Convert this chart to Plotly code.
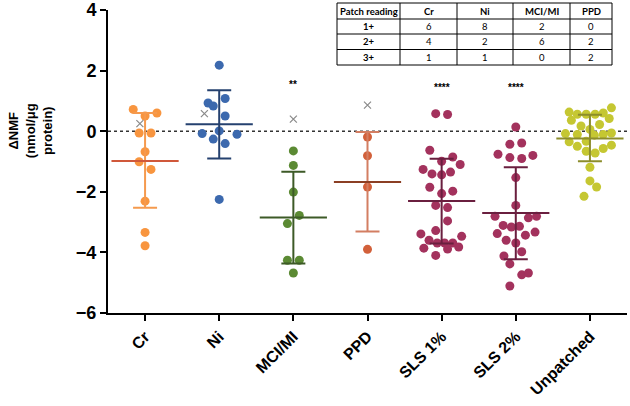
import plotly.graph_objects as go

# ---------------- data ----------------
categories = ["Cr", "Ni", "MCI/MI", "PPD", "SLS 1%", "SLS 2%", "Unpatched"]

cr_vals = [0.72, 0.60, 0.50, -0.06, -0.06, -0.68, -1.01, -1.26, -2.31, -3.34, -3.78]
cr_off = [-0.16, 0.16, 0.0, -0.08, 0.08, 0.0, -0.08, 0.08, 0.0, 0.0, 0.0]

ni_vals = [2.18, 0.93, 0.83, 1.08, 0.50, -0.08, 0.01, -0.10, -0.26, -0.41, -2.25]
ni_off = [0.0, -0.15, -0.08, 0.08, 0.08, -0.23, 0.0, 0.24, -0.08, 0.08, 0.0]

mci_vals = [-0.65, -1.13, -2.01, -2.78, -3.05, -4.26, -4.26, -4.68]
mci_off = [0.0, 0.0, 0.0, 0.08, -0.08, -0.08, 0.08, 0.0]

ppd_vals = [-0.19, -0.81, -1.84, -3.90]
ppd_off = [0.0, 0.0, 0.0, 0.0]

sls1_vals = [0.58, 0.55, -0.63, -0.99, -0.85, -1.10, -1.26, -1.41, -1.44, -1.35,
             -1.85, -1.98, -2.06, -2.45, -2.52, -2.96, -3.28, -3.39, -3.47, -3.60,
             -3.69, -3.69, -3.69, -3.86, -3.89, -3.82, -4.10]
sls1_off = [-0.08, 0.08, -0.16, 0.0, 0.15, 0.25, -0.25, -0.13, 0.0, 0.12,
            -0.16, 0.15, 0.0, -0.08, 0.08, 0.08, -0.08, -0.28, 0.27, -0.17,
            -0.06, 0.04, 0.15, -0.24, 0.08, 0.23, -0.08]

sls2_vals = [0.14, -0.43, -0.39, -0.76, -0.87, -0.90, -0.80, -1.53, -2.45, -2.81,
             -2.86, -2.81, -3.11, -3.16, -3.14, -3.38, -3.43, -3.33, -3.60, -3.69,
             -3.98, -4.12, -4.38, -4.74, -4.68, -5.11]
sls2_off = [0.0, -0.08, 0.08, -0.24, -0.08, 0.08, 0.23, 0.0, 0.0, -0.28,
            0.17, 0.28, -0.17, -0.06, 0.05, -0.25, 0.13, 0.26, -0.13, 0.0,
            0.08, -0.16, -0.08, 0.08, 0.17, -0.08]

unp_vals = [0.63, 0.56, 0.56, 0.56, 0.60, 0.77, 0.36, 0.42, 0.17, 0.22,
            -0.08, -0.11, 0.06, -0.13, -0.11, -0.06, -0.35, -0.33, -0.50, -0.57,
            -0.46, -0.66, -0.72, -1.19, -1.64, -1.84, -2.15]
unp_off = [-0.28, -0.17, -0.05, 0.07, 0.18, 0.29, -0.25, 0.26, -0.12, 0.13,
           -0.33, -0.17, 0.0, 0.06, 0.18, 0.29, -0.28, -0.05, -0.17, 0.18,
           0.29, -0.05, 0.07, 0.0, 0.0, 0.09, -0.08]

group_vals = [cr_vals, ni_vals, mci_vals, ppd_vals, sls1_vals, sls2_vals, unp_vals]
group_off = [cr_off, ni_off, mci_off, ppd_off, sls1_off, sls2_off, unp_off]

means = [-0.98, 0.23, -2.85, -1.68, -2.30, -2.70, -0.24]
upper = [0.60, 1.35, -1.34, -0.03, -0.91, -1.19, 0.54]
lower = [-2.53, -0.90, -4.37, -3.31, -3.71, -4.23, -0.99]

# grey "x" markers (patch groups)
xmark_cat = [0, 1, 2, 3]
xmark_off = [-0.07, -0.20, 0.0, 0.0]
xmark_vals = [0.25, 0.58, 0.40, 0.86]

# significance stars
star_cat = [2, 4, 5]
star_text = ["**", "****", "****"]
star_y = [1.55, 1.45, 1.45]

# table
table_header = ["Patch reading", "Cr", "Ni", "MCI/MI", "PPD"]
table_rows = [["1+", "6", "8", "2", "0"],
              ["2+", "4", "2", "6", "2"],
              ["3+", "1", "1", "0", "2"]]

# ---------------- styles ----------------
point_colors = ["#F8953F", "#3C69AE", "#5B8A33", "#D2603A", "#A3325D", "#A3325D", "#C5C732"]
bar_colors = ["#F59A4E", "#25416F", "#3D5A27", "#D37E62", "#6A1F3F", "#6A1F3F", "#8C8D2C"]
mean_colors = ["#D0583A", "#25416F", "#3D5A27", "#8B3F24", "#6A1F3F", "#6A1F3F", "#8C8D2C"]

L, R, T, B = 108, 3, 10, 93
W, H = 630, 406
pw, ph = W - L - R, H - T - B


def px2paper(x, y):
    return (x - L) / pw, (T + ph - y) / ph


fig = go.Figure()

# zero dotted line
fig.add_shape(type="line", xref="paper", yref="y", x0=0, x1=1, y0=0, y1=0,
              line=dict(color="#333333", width=1.5, dash="dot"), layer="below")

for i, (vals, offs) in enumerate(zip(group_vals, group_off)):
    fig.add_trace(go.Scatter(
        x=[i + o for o in offs], y=vals, mode="markers",
        marker=dict(size=9, color=point_colors[i], line=dict(width=0)),
        showlegend=False, hoverinfo="y"))

for i in range(len(categories)):
    fig.add_trace(go.Scatter(
        x=[i], y=[means[i]], mode="markers",
        marker=dict(symbol="line-ew", size=48,
                    line=dict(width=2, color=mean_colors[i])),
        error_y=dict(type="data", symmetric=False,
                     array=[upper[i] - means[i]],
                     arrayminus=[means[i] - lower[i]],
                     width=12, thickness=2, color=bar_colors[i]),
        showlegend=False, hoverinfo="y"))

fig.add_trace(go.Scatter(
    x=[c + o for c, o in zip(xmark_cat, xmark_off)], y=xmark_vals, mode="markers",
    marker=dict(symbol="x-thin", size=7, line=dict(width=1.2, color="#8a8a8a")),
    showlegend=False, hoverinfo="y"))

for c, t, y in zip(star_cat, star_text, star_y):
    fig.add_annotation(x=c, y=y, xref="x", yref="y", text=t, showarrow=False,
                       font=dict(family="Liberation Sans", size=10, color="black", weight="bold"))

# table drawn with shapes & annotations
col_edges = [337, 400, 457, 513, 570, 612]
row_edges = [3, 19, 34, 49.5, 65]
for xe in col_edges:
    x0, y0 = px2paper(xe, row_edges[0])
    _, y1 = px2paper(xe, row_edges[-1])
    fig.add_shape(type="line", xref="paper", yref="paper", x0=x0, x1=x0, y0=y0, y1=y1,
                  line=dict(color="black", width=1))
for ye in row_edges:
    x0, yy = px2paper(col_edges[0], ye)
    x1, _ = px2paper(col_edges[-1], ye)
    fig.add_shape(type="line", xref="paper", yref="paper", x0=x0, x1=x1, y0=yy, y1=yy,
                  line=dict(color="black", width=1))

all_rows = [table_header] + table_rows
for r, row in enumerate(all_rows):
    yc = (row_edges[r] + row_edges[r + 1]) / 2
    for c, txt in enumerate(row):
        xc = (col_edges[c] + col_edges[c + 1]) / 2
        xp, yp = px2paper(xc, yc)
        bold = (r == 0 or c == 0)
        fig.add_annotation(x=xp, y=yp, xref="paper", yref="paper", text=txt,
                           showarrow=False, xanchor="center", yanchor="middle",
                           font=dict(family="Lato", size=9.5, color="black",
                                     weight="bold" if bold else "normal"))

# y-axis title
fig.add_annotation(x=(30 - L) / pw, y=0, xref="paper", yref="y",
                   xanchor="center", yanchor="middle",
                   text="ΔNMF<br>(nmol/μg<br>protein)", textangle=-90, showarrow=False,
                   font=dict(family="Liberation Sans", size=13, color="black", weight="bold"))

fig.update_layout(
    width=W, height=H, margin=dict(l=L, r=R, t=T, b=B, autoexpand=False),
    paper_bgcolor="white", plot_bgcolor="white", showlegend=False,
    xaxis=dict(range=[-0.5, 6.5], tickmode="array", tickvals=list(range(len(categories))),
               ticktext=categories, tickangle=-45, ticks="outside", ticklen=6, tickwidth=2,
               tickcolor="black", showline=True, linewidth=2, linecolor="black",
               showgrid=False, zeroline=False, automargin=False,
               tickfont=dict(family="Liberation Sans", size=16, color="black", weight="bold")),
    yaxis=dict(range=[-6, 4], tickmode="array", tickvals=[-6, -4, -2, 0, 2, 4],
               ticks="outside", ticklen=6, tickwidth=2, tickcolor="black",
               showline=True, linewidth=2, linecolor="black", showgrid=False, zeroline=False,
               automargin=False,
               tickfont=dict(family="Liberation Sans", size=18, color="black", weight="bold")),
)

fig.write_html(
    "out.html",
    config={"displayModeBar": False},
    post_script="document.body.style.margin='0';document.body.style.overflow='hidden';",
)
